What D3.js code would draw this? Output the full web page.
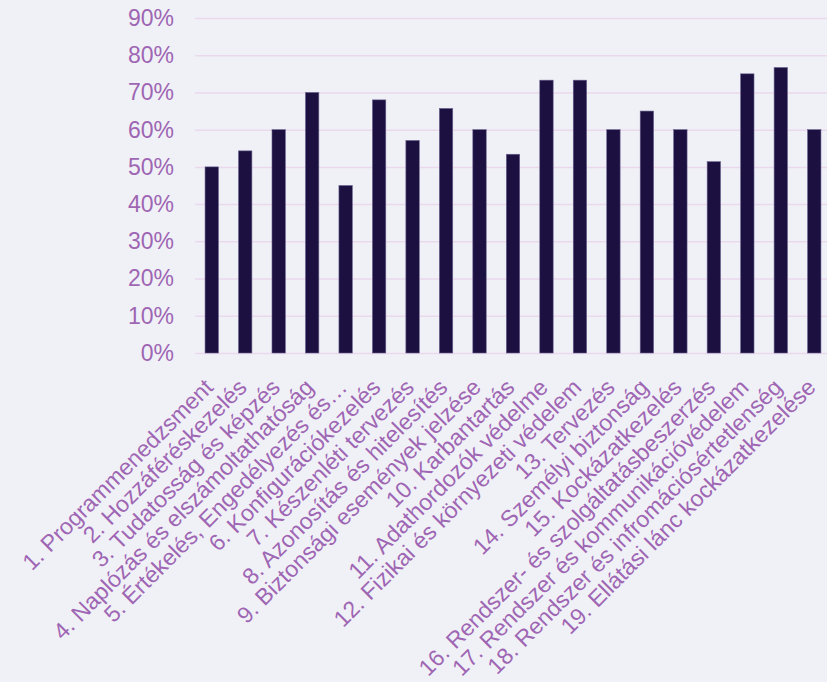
<!DOCTYPE html>
<html lang="hu">
<head>
<meta charset="UTF-8">
<title>Kontrollcsaládok megfelelése</title>
<script src="https://d3js.org/d3.v7.min.js"></script>
<style>
    html, body {
        margin: 0;
        padding: 0;
        background-color: #f0f1f7;
    }
    svg {
        display: block;
        font-family: Arial, "Liberation Sans", sans-serif;
    }
    .tick text {
        fill: #9e66b3;
    }
    .grid line {
        stroke: #ead9ec;
        stroke-width: 1.5;
    }
    .bar {
        fill: #1b1040;
        stroke: #6b6390;
        stroke-width: 0.6;
    }
</style>
</head>
<body>
<svg width="827" height="682"></svg>
<script>
const categories = [
    "1. Programmenedzsment",
    "2. Hozzáféréskezelés",
    "3. Tudatosság és képzés",
    "4. Naplózás és elszámoltathatóság",
    "5. Értékelés, Engedélyezés és…",
    "6. Konfigurációkezelés",
    "7. Készenléti tervezés",
    "8. Azonosítás és hitelesítés",
    "9. Biztonsági események jelzése",
    "10. Karbantartás",
    "11. Adathordozók védelme",
    "12. Fizikai és környezeti védelem",
    "13. Tervezés",
    "14. Személyi biztonság",
    "15. Kockázatkezelés",
    "16. Rendszer- és szolgáltatásbeszerzés",
    "17. Rendszer és kommunikációvédelem",
    "18. Rendszer és infromációsértetlenség",
    "19. Ellátási lánc kockázatkezelése"
];
const values = [50, 54.3, 60, 70, 45, 68, 57.1, 65.7, 60, 53.4, 73.3, 73.3, 60, 65, 60, 51.4, 75, 76.7, 60];
const yTicks = [0, 10, 20, 30, 40, 50, 60, 70, 80, 90];

const svg = d3.select("svg"),
      margin = { top: 18, right: -4, bottom: 329, left: 195 },
      width = +svg.attr("width") - margin.left - margin.right,
      height = +svg.attr("height") - margin.top - margin.bottom,
      g = svg.append("g").attr("transform", `translate(${margin.left},${margin.top})`);

const x = d3.scaleBand()
    .domain(categories)
    .range([0, width])
    .paddingInner(0.6)
    .paddingOuter(0.3);

const y = d3.scaleLinear()
    .domain([0, 90])
    .range([height, 0]);

// horizontal grid lines
g.append("g")
    .attr("class", "grid")
    .call(d3.axisLeft(y).tickValues(yTicks).tickSize(-width).tickFormat(""))
    .call(a => a.select(".domain").remove());

// y axis labels
g.append("g")
    .call(d3.axisLeft(y).tickValues(yTicks).tickSize(0).tickPadding(21).tickFormat(d => d + "%"))
    .call(a => a.select(".domain").remove())
    .selectAll("text")
    .style("font-size", "23px");

// bars
g.selectAll(".bar")
    .data(values)
    .enter().append("rect")
    .attr("class", "bar")
    .attr("x", (d, i) => x(categories[i]))
    .attr("y", d => y(d))
    .attr("width", x.bandwidth())
    .attr("height", d => height - y(d));

// x axis labels, rotated
g.append("g")
    .attr("transform", `translate(0,${height})`)
    .call(d3.axisBottom(x).tickSize(0).tickFormat(d => d))
    .call(a => a.select(".domain").remove())
    .selectAll("text")
    .style("font-size", "23px")
    .attr("text-anchor", "end")
    .attr("dy", "0.35em")
    .attr("transform", "translate(-5,28) rotate(-45)");
</script>
</body>
</html>
